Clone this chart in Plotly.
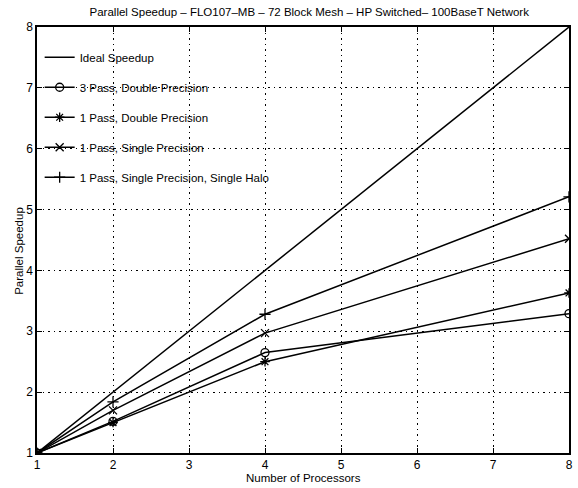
import plotly.graph_objects as go

processors = [1, 2, 4, 8]
ideal = [1, 2, 4, 8]
three_pass_dp = [1, 1.52, 2.65, 3.29]
one_pass_dp = [1, 1.50, 2.50, 3.63]
one_pass_sp = [1, 1.70, 2.97, 4.52]
one_pass_sp_halo = [1, 1.84, 3.28, 5.21]

x_ticks = [1, 2, 3, 4, 5, 6, 7, 8]
y_ticks = [1, 2, 3, 4, 5, 6, 7, 8]

FONT = "Liberation Sans, Arial, sans-serif"

series = [
    ("Ideal Speedup", ideal, None),
    ("3 Pass, Double Precision", three_pass_dp, "circle-open"),
    ("1 Pass, Double Precision", one_pass_dp, "asterisk-open"),
    ("1 Pass, Single Precision", one_pass_sp, "x-thin-open"),
    ("1 Pass, Single Precision, Single Halo", one_pass_sp_halo, "cross-thin-open"),
]

fig = go.Figure()
for i, (name, vals, sym) in enumerate(series):
    fig.add_trace(go.Scatter(
        x=processors, y=vals, name=name,
        mode="lines" if sym is None else "lines+markers",
        line=dict(color="black", width=1.5),
        marker=dict(symbol=sym or "circle", size=8, color="black",
                    line=dict(color="black", width=1.3)),
        legendgroup=f"g{i}",
    ))

axis_common = dict(
    showgrid=True, gridcolor="black", griddash="1.5px,4px", gridwidth=1.2,
    showline=True, linecolor="black", linewidth=1.5, mirror="ticks",
    ticks="inside", ticklen=5, tickcolor="black",
    zeroline=False,
    tickfont=dict(family=FONT, size=12, color="black"),
)

fig.update_layout(
    width=578, height=488,
    margin=dict(l=37, r=5, t=27, b=35),
    paper_bgcolor="white", plot_bgcolor="white",
    font=dict(family=FONT, size=11, color="black"),
    title=dict(
        text="Parallel Speedup – FLO107–MB – 72 Block Mesh – HP Switched– 100BaseT Network",
        x=0.535, xanchor="center", y=0.975, yanchor="middle",
        font=dict(family=FONT, size=11.5, color="black"),
    ),
    xaxis=dict(range=[1, 8], tickvals=x_ticks, **axis_common),
    yaxis=dict(range=[1, 8], tickvals=y_ticks, **axis_common),
    annotations=[
        dict(text="Number of Processors", xref="paper", yref="paper",
             x=0.5, y=-0.059, xanchor="center", yanchor="middle",
             showarrow=False, font=dict(family=FONT, size=11.5, color="black")),
        dict(text="Parallel Speedup", xref="paper", yref="paper",
             x=-0.0354, y=0.475, xanchor="center", yanchor="middle", textangle=-90,
             showarrow=False, font=dict(family=FONT, size=11.5, color="black")),
    ],
    legend=dict(
        x=0.005, y=0.963, xanchor="left", yanchor="top",
        bgcolor="rgba(0,0,0,0)", borderwidth=0,
        tracegroupgap=11, itemwidth=30,
        font=dict(family=FONT, size=11.5, color="black"),
    ),
    showlegend=True,
)

fig.write_html(
    "out.html",
    config={"displayModeBar": False},
    post_script="document.body.style.margin='0';document.body.style.overflow='hidden';",
)
